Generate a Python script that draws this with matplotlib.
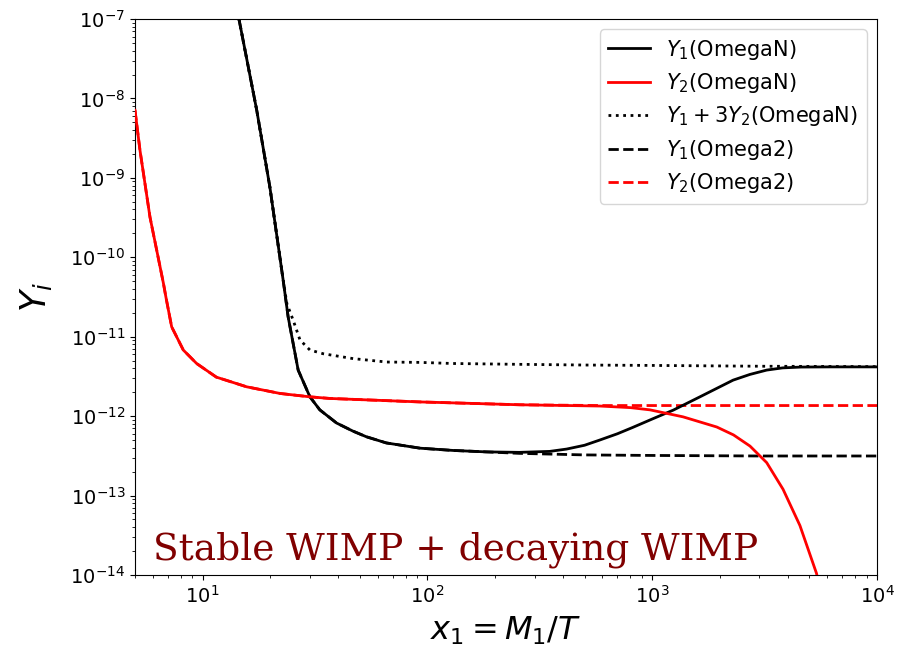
import numpy as np
import matplotlib
matplotlib.use("Agg")
import matplotlib.pyplot as plt

# Y1 (OmegaN), solid black
x_y1 = [14.5, 17.4, 19.9, 22.8, 24.0, 26.6, 30.0, 33.2, 39.4, 46.5, 53.5, 65.6, 92.7,
        130, 182, 256, 350, 416, 500, 584, 700, 818, 1000, 1240, 1630, 2290, 2720,
        3230, 3800, 4600, 6300, 10000]
y_y1 = [1.0e-7, 7.1e-9, 7.7e-10, 5.2e-11, 1.78e-11, 3.8e-12, 1.75e-12, 1.2e-12, 8.2e-13,
        6.5e-13, 5.5e-13, 4.6e-13, 3.95e-13, 3.7e-13, 3.55e-13, 3.5e-13, 3.6e-13, 3.85e-13,
        4.3e-13, 5.0e-13, 6.0e-13, 7.2e-13, 9.2e-13, 1.19e-12, 1.75e-12, 2.84e-12, 3.35e-12,
        3.8e-12, 4.05e-12, 4.15e-12, 4.17e-12, 4.17e-12]

# Y2 (OmegaN), solid red
x_y2 = [5.0, 5.26, 5.83, 6.69, 6.87, 7.28, 8.20, 9.40, 11.5, 15.7, 22.1, 30.0, 36.8,
        92.6, 258, 586, 800, 977, 1371, 1937, 2300, 2722, 3230, 3820, 4540, 5380, 6300]
y_y2 = [7.1e-9, 2.24e-9, 3.2e-10, 4.7e-11, 3.1e-11, 1.33e-11, 6.8e-12, 4.6e-12, 3.1e-12,
        2.34e-12, 1.93e-12, 1.75e-12, 1.67e-12, 1.51e-12, 1.39e-12, 1.34e-12, 1.28e-12,
        1.2e-12, 9.8e-13, 7.3e-13, 5.8e-13, 4.2e-13, 2.6e-13, 1.2e-13, 4.2e-14, 1.05e-14, 1.5e-15]

# Y1 + 3 Y2 (OmegaN), dotted black
x_tot = [14.5, 17.4, 19.9, 22.8, 23.7, 25.3, 27.1, 30.0, 34.4, 46.7, 65.9, 92.6, 130,
         240, 500, 1000, 3000, 10000]
y_tot = [1.0e-7, 7.1e-9, 7.7e-10, 5.2e-11, 2.6e-11, 1.6e-11, 9.1e-12, 6.8e-12, 6.1e-12,
         5.3e-12, 4.8e-12, 4.75e-12, 4.6e-12, 4.5e-12, 4.4e-12, 4.35e-12, 4.25e-12, 4.2e-12]

# Y1 (Omega2), dashed black
x_y1b = [14.5, 17.4, 19.9, 22.8, 24.0, 26.6, 30.0, 33.2, 39.4, 46.5, 53.5, 65.6, 92.7,
         130, 182, 256, 500, 1000, 3000, 10000]
y_y1b = [1.0e-7, 7.1e-9, 7.7e-10, 5.2e-11, 1.78e-11, 3.8e-12, 1.75e-12, 1.2e-12, 8.2e-13,
         6.5e-13, 5.5e-13, 4.6e-13, 3.95e-13, 3.7e-13, 3.55e-13, 3.4e-13, 3.25e-13, 3.2e-13,
         3.15e-13, 3.15e-13]

# Y2 (Omega2), dashed red
x_y2b = [5.0, 5.26, 5.83, 6.69, 6.87, 7.28, 8.20, 9.40, 11.5, 15.7, 22.1, 30.0, 36.8,
         92.6, 258, 586, 1000, 3000, 10000]
y_y2b = [7.1e-9, 2.24e-9, 3.2e-10, 4.7e-11, 3.1e-11, 1.33e-11, 6.8e-12, 4.6e-12, 3.1e-12,
         2.34e-12, 1.93e-12, 1.75e-12, 1.67e-12, 1.51e-12, 1.39e-12, 1.36e-12, 1.36e-12,
         1.36e-12, 1.36e-12]

fig = plt.figure(figsize=(8.97, 6.52), dpi=100)
ax = fig.add_axes([135 / 897, 1 - 575 / 652, 742 / 897, 556 / 652])

lw = 2
ax.plot(x_y1b, y_y1b, 'k--', lw=lw, label=r'$Y_1$(Omega2)', zorder=2)
ax.plot(x_y2b, y_y2b, 'r--', lw=lw, label=r'$Y_2$(Omega2)', zorder=2)
ax.plot(x_tot, y_tot, 'k:', lw=lw, label=r'$Y_1+3Y_2$(OmegaN)', zorder=2)
ax.plot(x_y1, y_y1, 'k-', lw=lw, label=r'$Y_1$(OmegaN)', zorder=3)
ax.plot(x_y2, y_y2, 'r-', lw=lw, label=r'$Y_2$(OmegaN)', zorder=3)

ax.set_xscale('log')
ax.set_yscale('log')
ax.set_xlim(5, 1e4)
ax.set_ylim(1e-14, 1e-7)
ax.tick_params(labelsize=14)
ax.set_xlabel(r'$x_1 = M_1/T$', fontsize=23, labelpad=6)
ax.set_ylabel(r'$Y_i$', fontsize=25, labelpad=12)

# legend order as in the figure
h, l = ax.get_legend_handles_labels()
order = [3, 4, 2, 0, 1]
ax.legend([h[i] for i in order], [l[i] for i in order], loc='upper right',
          fontsize=15, labelspacing=0.45)

ax.text(0.024, 0.027, 'Stable WIMP + decaying WIMP', transform=ax.transAxes,
        family='DejaVu Serif', fontsize=27, color='#800000', ha='left', va='baseline')

fig.savefig('out.png', dpi=100)
